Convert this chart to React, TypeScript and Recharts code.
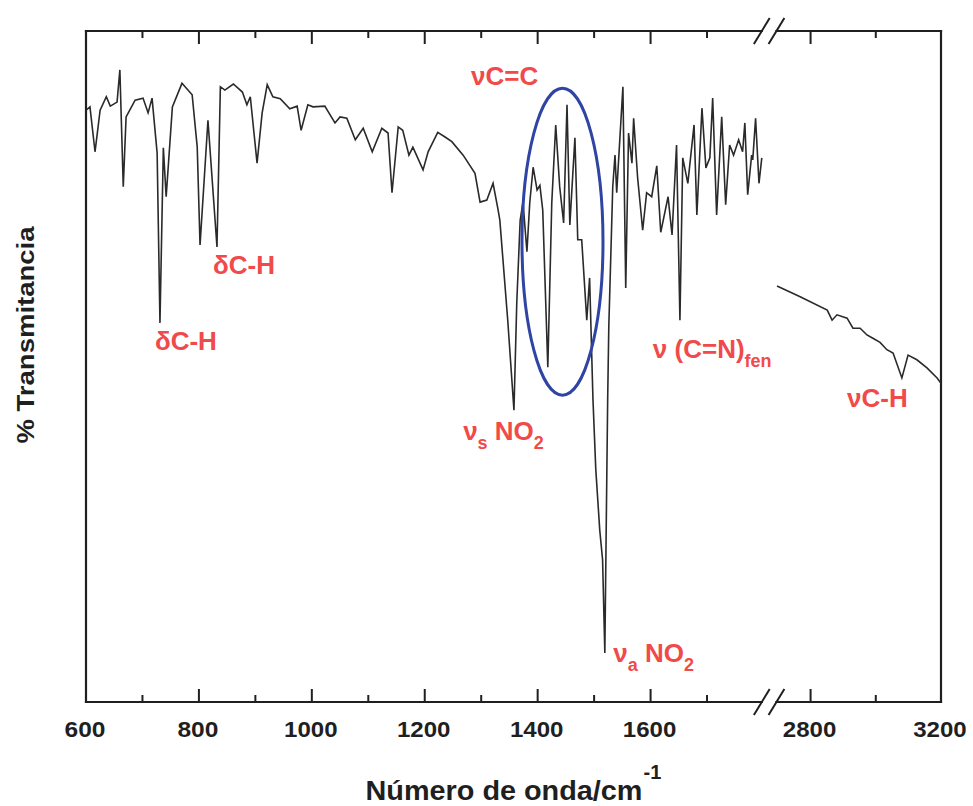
import React from 'react';
import { LineChart, Line, XAxis, YAxis, ReferenceLine, ReferenceDot } from 'recharts';

// ---------- data ----------
const LEFT_WAVENUMBER = [600, 607, 616, 625, 636, 643, 655, 660, 666, 671, 687, 701, 710, 717, 726, 731, 737, 742, 753, 770, 788, 797, 802, 816, 832, 838, 846, 861, 877, 885, 891, 903, 912, 921, 931, 944, 961, 974, 981, 993, 1002, 1023, 1041, 1050, 1062, 1077, 1091, 1107, 1124, 1135, 1142, 1153, 1161, 1172, 1179, 1197, 1206, 1223, 1236, 1248, 1268, 1289, 1298, 1310, 1321, 1330, 1333, 1347, 1358, 1363, 1369, 1374, 1381, 1386, 1392, 1399, 1404, 1409, 1418, 1425, 1432, 1439, 1446, 1452, 1457, 1466, 1471, 1478, 1487, 1492, 1498, 1503, 1510, 1515, 1519, 1521, 1523, 1524, 1526, 1533, 1537, 1540, 1551, 1556, 1561, 1567, 1570, 1577, 1586, 1593, 1602, 1611, 1618, 1631, 1638, 1646, 1652, 1657, 1666, 1677, 1682, 1691, 1698, 1705, 1710, 1717, 1726, 1733, 1740, 1747, 1756, 1763, 1767, 1772, 1779, 1781, 1786, 1792, 1797];
const LEFT_TRANSMITTANCE = [88.2, 88.7, 82.0, 88.2, 90.2, 88.8, 89.4, 94.2, 76.8, 87.2, 89.7, 90.0, 87.8, 90.0, 81.8, 56.5, 82.6, 75.3, 88.7, 92.2, 90.5, 82.7, 68.1, 86.7, 67.8, 91.7, 91.2, 92.1, 90.9, 89.0, 90.2, 80.3, 87.8, 92.0, 90.2, 89.9, 88.4, 88.8, 85.2, 89.0, 88.7, 88.8, 86.3, 87.2, 87.0, 83.8, 85.5, 82.0, 85.5, 84.8, 75.9, 85.7, 85.2, 81.5, 82.7, 79.3, 82.0, 84.9, 84.2, 83.5, 81.5, 78.8, 74.5, 74.8, 77.3, 73.3, 71.8, 56.9, 43.5, 59.5, 71.8, 74.5, 67.1, 74.4, 79.7, 76.3, 77.0, 73.3, 49.9, 74.4, 86.0, 76.8, 71.4, 89.0, 71.1, 84.1, 68.9, 68.9, 56.9, 63.2, 45.0, 34.6, 25.6, 21.2, 7.3, 22.7, 37.6, 45.0, 55.9, 76.8, 81.5, 75.9, 91.7, 61.7, 84.8, 80.3, 87.0, 78.2, 70.3, 75.9, 75.3, 79.9, 70.0, 75.3, 69.6, 83.0, 56.9, 81.1, 77.3, 86.0, 72.6, 88.5, 79.6, 81.1, 90.0, 72.6, 87.2, 74.1, 83.0, 81.5, 83.8, 82.0, 86.3, 75.6, 81.5, 80.8, 87.0, 77.3, 81.1];
const RIGHT_WAVENUMBER = [2697, 2768, 2851, 2866, 2881, 2912, 2930, 2952, 2973, 2991, 3013, 3034, 3053, 3080, 3099, 3126, 3157, 3188, 3200];
const RIGHT_TRANSMITTANCE = [62.0, 60.4, 58.4, 56.9, 57.7, 57.2, 55.7, 55.7, 54.7, 54.2, 53.6, 52.5, 52.0, 48.3, 51.7, 51.0, 49.8, 48.3, 47.5];

const MAJOR_TICKS = [600, 800, 1000, 1200, 1400, 1600, 2800, 3200];
const MINOR_TICKS = [700, 900, 1100, 1300, 1500, 1700, 3000];

type Part = [string, boolean];
const ANNOTATIONS: { w: number; t: number; parts: Part[] }[] = [
  { w: 722, t: 52.4, parts: [['δC-H', false]] },
  { w: 825, t: 63.8, parts: [['δC-H', false]] },
  { w: 1282, t: 92.0, parts: [['νC=C', false]] },
  { w: 1268, t: 39.0, parts: [['ν', false], ['s', true], [' NO', false], ['2', true]] },
  { w: 1534, t: 6.0, parts: [['ν', false], ['a', true], [' NO', false], ['2', true]] },
  { w: 1604, t: 51.3, parts: [['ν (C=N)', false], ['fen', true]] },
  { w: 2912, t: 44.0, parts: [['νC-H', false]] },
];
const HIGHLIGHT = { w: 1444, t: 68.6 };

// ---------- broken axis transform ----------
const BREAK_LEFT = 1811;
const BREAK_RIGHT = 2674.6;
const RIGHT_COMPRESSION = 0.5775;
const toAxis = (w: number) => (w <= BREAK_LEFT ? w : BREAK_LEFT + (w - BREAK_RIGHT) * RIGHT_COMPRESSION);
const U_MIN = 600;
const U_MAX = toAxis(3200);
const GAP_START = 1797;
const GAP_END = 1823;

const leftData = LEFT_WAVENUMBER.map((w, i) => ({ u: toAxis(w), t: LEFT_TRANSMITTANCE[i] }));
const rightData = RIGHT_WAVENUMBER.map((w, i) => ({ u: toAxis(w), t: RIGHT_TRANSMITTANCE[i] }));

const TICK_INFO = [
  ...MAJOR_TICKS.map((w) => ({ w, u: toAxis(w), major: true })),
  ...MINOR_TICKS.map((w) => ({ w, u: toAxis(w), major: false })),
].sort((a, b) => a.u - b.u);
const TICK_VALUES = TICK_INFO.map((t) => t.u);
const findTick = (u: number) => TICK_INFO.find((t) => Math.abs(t.u - u) < 0.5);

const FONT = '"Liberation Sans", Arial, Helvetica, sans-serif';
const INK = '#1f1f1f';
const RED = '#f04a4a';

const BottomTick = (p: any) => {
  const info = findTick(p.payload.value);
  if (!info) return null;
  const inner = info.u > U_MIN + 1 && info.u < U_MAX - 1;
  const len = info.major ? 13 : 7;
  const label = info.major ? String(info.w) : '';
  const tl = label.length === 3 ? 41 : 53.5;
  return (
    <g>
      {inner && <line x1={p.x} x2={p.x} y1={p.y} y2={p.y - len} stroke={INK} strokeWidth={2} />}
      {label && (
        <text x={p.x - tl / 2 - 1} y={p.y + 34.5} fontFamily={FONT} fontWeight="bold" fontSize={22} fill={INK}
          textLength={tl} lengthAdjust="spacingAndGlyphs">{label}</text>
      )}
    </g>
  );
};

const TopTick = (p: any) => {
  const info = findTick(p.payload.value);
  if (!info) return null;
  const inner = info.u > U_MIN + 1 && info.u < U_MAX - 1;
  if (!inner) return null;
  const len = info.major ? 13 : 7;
  return <line x1={p.x} x2={p.x} y1={p.y} y2={p.y + len} stroke={INK} strokeWidth={2} />;
};

// Axis titles, placed relative to the bottom axis box (x = plot left, y = plot bottom)
const AxisTitles = (p: any) => {
  const vb = p.viewBox || { x: 86, y: 702, width: 855, height: 1 };
  const cx = vb.x + vb.width / 2;
  const base = vb.y + 97.5;
  const start = cx - 148;
  const yx = vb.x - 52;
  const yc = vb.y - 367;
  return (
    <g>
      <text x={start} y={base} fontFamily={FONT} fontWeight="bold" fontSize={28} fill={INK}
        textLength={277} lengthAdjust="spacingAndGlyphs">Número de onda/cm</text>
      <text x={start + 278} y={base - 21} fontFamily={FONT} fontWeight="bold" fontSize={20} fill={INK}>-1</text>
      <text x={yx} y={yc} transform={`rotate(-90, ${yx}, ${yc})`} textAnchor="middle" fontFamily={FONT}
        fontWeight="bold" fontSize={24} fill={INK} textLength={217} lengthAdjust="spacingAndGlyphs">% Transmitancia</text>
    </g>
  );
};

const Annotation = ({ cx, cy, parts }: any) => {
  let prevSub = false;
  return (
    <text x={cx} y={cy} fontFamily={FONT} fontWeight="bold" fontSize={26} fill={RED} style={{ whiteSpace: 'pre' }}>
      {parts.map(([s, sub]: Part, i: number) => {
        const dy = sub && !prevSub ? 9 : !sub && prevSub ? -9 : 0;
        prevSub = sub;
        return (
          <tspan key={i} dy={dy} fontSize={sub ? 18 : 26}>{s}</tspan>
        );
      })}
    </text>
  );
};

const seg = (a: [number, number], b: [number, number]) => [{ x: a[0], y: a[1] }, { x: b[0], y: b[1] }];
const FRAME = [
  seg([U_MIN, 0], [U_MIN, 100]),
  seg([U_MAX, 0], [U_MAX, 100]),
  seg([U_MIN, 0], [GAP_START, 0]),
  seg([GAP_END, 0], [U_MAX, 0]),
  seg([U_MIN, 100], [GAP_START, 100]),
  seg([GAP_END, 100], [U_MAX, 100]),
];
const SLASHES = [GAP_START, GAP_END].flatMap((c) => [0, 100].map((b) => seg([c - 14, b - 1.94], [c + 14, b + 1.94])));

export default function App() {
  return (
    <div style={{ position: 'absolute', left: 0, top: 0, width: 973, height: 806, background: '#ffffff' }}>
      <LineChart width={973} height={806} margin={{ top: 30, right: 32, bottom: 103, left: 86 }}>
        <XAxis xAxisId="b" type="number" dataKey="u" domain={[U_MIN, U_MAX]} allowDataOverflow ticks={TICK_VALUES}
          interval={0} height={1} tickSize={0} tickMargin={0} axisLine={false} tickLine={false}
          tick={(p: any) => <BottomTick {...p} />} label={(p: any) => <AxisTitles {...p} />} />
        <XAxis xAxisId="t" orientation="top" type="number" dataKey="u" domain={[U_MIN, U_MAX]} allowDataOverflow
          ticks={TICK_VALUES} interval={0} height={1} tickSize={0} tickMargin={0} axisLine={false} tickLine={false}
          tick={(p: any) => <TopTick {...p} />} />
        <YAxis yAxisId="y" type="number" domain={[0, 100]} allowDataOverflow width={0} tick={false} axisLine={false}
          tickLine={false} />
        {FRAME.map((s, i) => (
          <ReferenceLine key={'f' + i} xAxisId="b" yAxisId="y" segment={s} stroke={INK} strokeWidth={2.2}
            strokeLinecap="square" ifOverflow="visible" />
        ))}
        {SLASHES.map((s, i) => (
          <ReferenceLine key={'s' + i} xAxisId="b" yAxisId="y" segment={s} stroke={INK} strokeWidth={2}
            ifOverflow="visible" />
        ))}
        <Line xAxisId="b" yAxisId="y" data={leftData} dataKey="t" type="linear" dot={false} stroke="#2a2a2a"
          strokeWidth={1.6} isAnimationActive={false} />
        <Line xAxisId="b" yAxisId="y" data={rightData} dataKey="t" type="linear" dot={false} stroke="#2a2a2a"
          strokeWidth={1.6} isAnimationActive={false} />
        <ReferenceDot xAxisId="b" yAxisId="y" x={toAxis(HIGHLIGHT.w)} y={HIGHLIGHT.t} r={1} ifOverflow="visible"
          shape={(p: any) => <ellipse cx={p.cx} cy={p.cy} rx={40.5} ry={153.5} fill="none" stroke="#2f44a3" strokeWidth={3} />} />
        {ANNOTATIONS.map((a, i) => (
          <ReferenceDot key={'a' + i} xAxisId="b" yAxisId="y" x={toAxis(a.w)} y={a.t} r={1} ifOverflow="visible"
            shape={(p: any) => <Annotation cx={p.cx} cy={p.cy} parts={a.parts} />} />
        ))}
      </LineChart>
    </div>
  );
}
